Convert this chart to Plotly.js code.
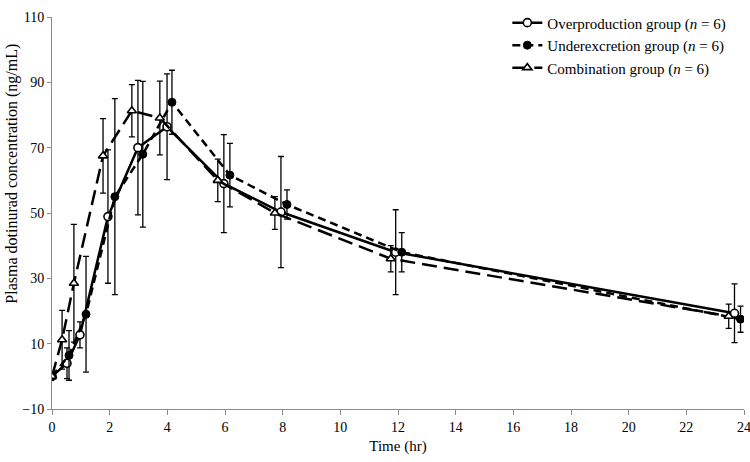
<!DOCTYPE html>
<html>
<head>
<meta charset="utf-8">
<script src="https://cdn.plot.ly/plotly-3.0.1.min.js"></script>
<style>
  html, body { margin: 0; padding: 0; background: #fff; }
  #chart { width: 750px; height: 462px; }
</style>
</head>
<body>
<div id="chart"></div>
<script>
// plasma concentration (ng/mL) vs time (hr), points shifted slightly per group as in the source
var overTime = [0, 0.52, 0.97, 1.94, 2.98, 3.99, 5.96, 7.94, 11.92, 23.67];
var overConc = [0, 4.0, 12.7, 48.9, 70.0, 76.4, 59.0, 50.3, 38.0, 19.3];
var overSd   = [0, 4.7, 4.0, 20.4, 20.6, 16.2, 15.0, 17.0, 13.0, 9.0];

var underTime = [0, 0.59, 1.18, 2.18, 3.15, 4.16, 6.17, 8.15, 12.13, 23.88];
var underConc = [0, 6.4, 19.0, 55.0, 68.0, 83.9, 61.6, 52.6, 38.0, 17.5];
var underSd   = [0, 7.6, 17.7, 30.0, 22.3, 9.8, 9.7, 4.5, 6.0, 4.0];

var comboTime = [0, 0.35, 0.76, 1.77, 2.77, 3.74, 5.75, 7.73, 11.75, 23.47];
var comboConc = [0, 11.2, 28.5, 67.5, 81.3, 79.1, 60.0, 50.0, 36.0, 18.4];
var comboSd   = [0, 9.0, 18.0, 11.4, 8.0, 11.3, 6.5, 5.0, 4.0, 3.7];

var serif = 'Liberation Serif, Times New Roman, serif';

function errBars(sd) {
    return { type: 'data', array: sd, visible: true, color: '#000', thickness: 1.3, width: 3 };
}

var data = [
    {
        x: overTime, y: overConc, error_y: errBars(overSd),
        name: 'Overproduction group (<i>n</i> = 6)',
        type: 'scatter', mode: 'lines+markers',
        line: { color: '#000', width: 2.5 },
        marker: { symbol: 'circle', size: 8, color: '#fff', line: { color: '#000', width: 1.6 } }
    },
    {
        x: underTime, y: underConc, error_y: errBars(underSd),
        name: 'Underexcretion group (<i>n</i> = 6)',
        type: 'scatter', mode: 'lines+markers',
        line: { color: '#000', width: 2.5, dash: '8px,5px' },
        marker: { symbol: 'circle', size: 8, color: '#000', line: { color: '#000', width: 1 } }
    },
    {
        x: comboTime, y: comboConc, error_y: errBars(comboSd),
        name: 'Combination group (<i>n</i> = 6)',
        type: 'scatter', mode: 'lines+markers',
        line: { color: '#000', width: 2.5, dash: '15px,7px' },
        marker: { symbol: 'triangle-up', size: 8, color: '#fff', line: { color: '#000', width: 1.6 } }
    }
];

var layout = {
    width: 750,
    height: 462,
    margin: { l: 52, r: 6, t: 6, b: 53, pad: 0 },
    paper_bgcolor: '#fff',
    plot_bgcolor: '#fff',
    font: { family: serif, size: 14, color: '#000' },
    showlegend: true,
    legend: {
        x: 0.658, y: 1.027, xanchor: 'left', yanchor: 'top',
        font: { family: serif, size: 15, color: '#000' },
        bgcolor: 'rgba(0,0,0,0)'
    },
    xaxis: {
        range: [0, 24],
        tickmode: 'linear', tick0: 0, dtick: 2,
        showgrid: false, zeroline: false,
        showline: true, linecolor: '#8c8c8c', linewidth: 1,
        ticks: 'outside', ticklen: 5, tickcolor: '#8c8c8c',
        ticklabeloverflow: 'allow',
        tickfont: { family: serif, size: 14 },
        title: { text: 'Time (hr)', font: { family: serif, size: 15 }, standoff: 6 }
    },
    yaxis: {
        range: [-10, 110],
        tickmode: 'linear', tick0: -10, dtick: 20,
        showgrid: false, zeroline: false,
        showline: true, linecolor: '#8c8c8c', linewidth: 1,
        ticks: 'outside', ticklen: 4, tickcolor: '#8c8c8c',
        ticklabeloverflow: 'allow',
        tickfont: { family: serif, size: 14 }
    },
    annotations: [{
        text: 'Plasma dotinurad concentration (ng/mL)',
        textangle: -90,
        xref: 'paper', yref: 'paper',
        x: -0.058, y: 0.60,
        xanchor: 'center', yanchor: 'middle',
        showarrow: false,
        font: { family: serif, size: 16, color: '#000' }
    }]
};

Plotly.newPlot('chart', data, layout, { displayModeBar: false, staticPlot: true });
</script>
</body>
</html>
